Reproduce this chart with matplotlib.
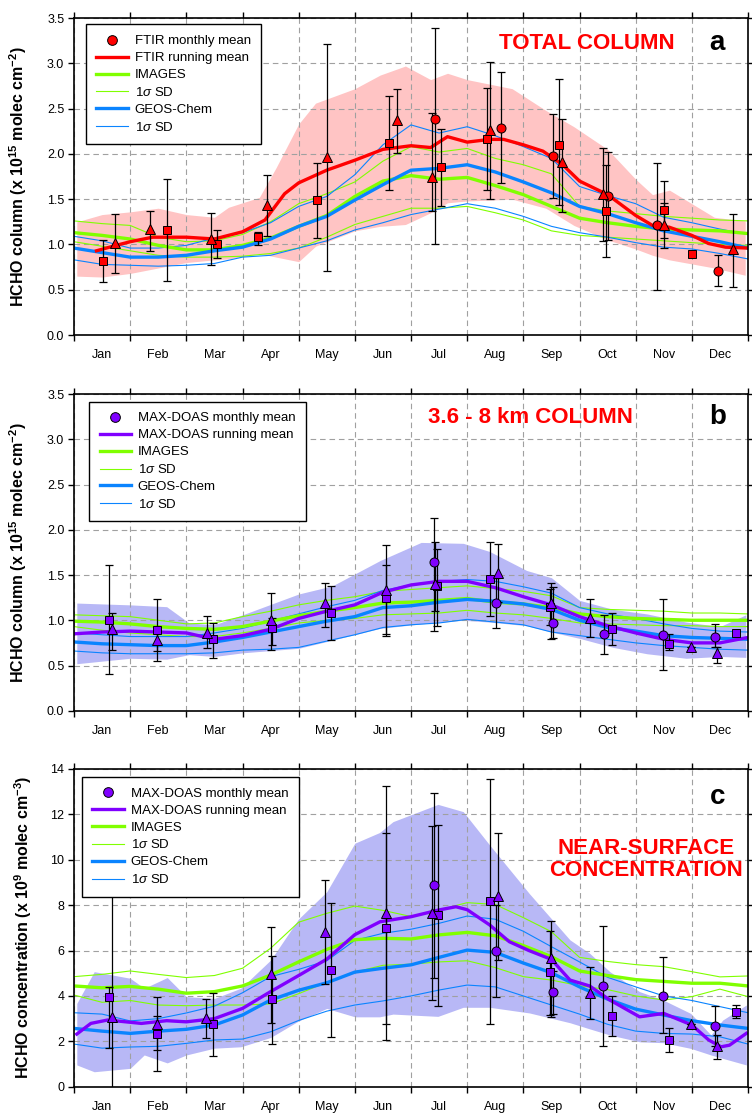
import numpy as np
import matplotlib.pyplot as plt
from matplotlib.lines import Line2D

plt.rcParams['font.family'] = 'Liberation Sans'
plt.rcParams['mathtext.fontset'] = 'custom'
plt.rcParams['mathtext.rm'] = 'Liberation Sans'
plt.rcParams['mathtext.it'] = 'Liberation Sans:italic'
plt.rcParams['mathtext.bf'] = 'Liberation Sans:bold'

months = ['Jan', 'Feb', 'Mar', 'Apr', 'May', 'Jun', 'Jul', 'Aug', 'Sep', 'Oct', 'Nov', 'Dec']

# model curves are read on a half-month grid (month index, 0 = 1 Jan)
mg = [0, 0.5, 1, 1.5, 2, 2.5, 3, 3.5, 4, 4.5, 5, 5.5, 6, 6.5, 7, 7.5, 8, 8.5, 9, 9.5, 10, 10.5, 11, 11.5, 12]

# ---------------- panel a : total column ----------------
a_images = [1.13, 1.10, 1.06, 0.99, 0.94, 0.94, 0.99, 1.07, 1.20, 1.32, 1.53, 1.70, 1.76, 1.72, 1.74, 1.65, 1.55, 1.42, 1.29, 1.24, 1.20, 1.17, 1.16, 1.15, 1.12]
a_images_hi = [1.26, 1.23, 1.21, 1.08, 1.03, 1.04, 1.11, 1.25, 1.45, 1.56, 1.69, 1.92, 2.08, 2.02, 2.06, 1.95, 1.88, 1.78, 1.42, 1.37, 1.34, 1.31, 1.29, 1.27, 1.26]
a_images_lo = [1.03, 0.98, 0.93, 0.88, 0.86, 0.86, 0.87, 0.90, 0.96, 1.08, 1.22, 1.31, 1.40, 1.40, 1.42, 1.35, 1.27, 1.15, 1.10, 1.08, 1.06, 1.04, 1.02, 1.00, 0.99]
a_geos = [0.96, 0.91, 0.86, 0.86, 0.88, 0.93, 0.97, 1.06, 1.20, 1.31, 1.49, 1.66, 1.82, 1.84, 1.88, 1.80, 1.69, 1.57, 1.42, 1.34, 1.24, 1.15, 1.09, 1.03, 0.96]
a_geos_hi = [1.09, 1.04, 0.96, 0.96, 0.99, 1.07, 1.13, 1.24, 1.42, 1.53, 1.77, 2.10, 2.32, 2.23, 2.30, 2.20, 2.08, 1.95, 1.64, 1.54, 1.45, 1.30, 1.24, 1.17, 1.11]
a_geos_lo = [0.83, 0.78, 0.77, 0.76, 0.77, 0.79, 0.86, 0.88, 0.96, 1.04, 1.16, 1.24, 1.33, 1.39, 1.45, 1.40, 1.31, 1.20, 1.13, 1.08, 1.02, 0.97, 0.95, 0.90, 0.84]

a_mean_x = [0.4, 0.75, 1.0, 1.4, 2.0, 2.5, 3.0, 3.4, 3.75, 4.0, 4.5, 5.0, 5.5, 6.0, 6.35, 6.65, 7.0, 7.4, 7.65, 8.0, 8.35, 8.7, 9.0, 9.5, 10.0, 10.3, 10.6, 11.0, 11.3, 11.6, 12.0]
a_mean = [0.93, 0.99, 1.03, 1.08, 1.08, 1.06, 1.14, 1.27, 1.56, 1.68, 1.82, 1.93, 2.05, 2.09, 2.07, 2.19, 2.13, 2.16, 2.16, 2.10, 2.03, 1.88, 1.70, 1.55, 1.32, 1.21, 1.19, 1.10, 1.01, 0.97, 0.96]

a_band_x = [0.05, 0.5, 1.0, 1.5, 2.0, 2.5, 2.75, 3.3, 3.6, 4.0, 4.3, 5.0, 5.45, 5.9, 6.35, 6.65, 7.0, 7.8, 8.4, 8.9, 9.5, 10.0, 10.3, 10.6, 11.4, 11.95]
a_band_hi = [1.25, 1.33, 1.36, 1.40, 1.33, 1.30, 1.41, 1.52, 1.85, 2.33, 2.56, 2.72, 2.87, 2.97, 2.82, 2.89, 2.82, 2.72, 2.48, 2.30, 2.05, 1.72, 1.55, 1.60, 1.30, 1.26]
a_band_lo = [0.65, 0.64, 0.68, 0.74, 0.80, 0.83, 0.84, 0.90, 0.86, 0.81, 0.98, 1.15, 1.20, 1.22, 1.35, 1.46, 1.48, 1.50, 1.40, 1.21, 1.05, 0.95, 0.88, 0.83, 0.74, 0.66]

# monthly means: month position, value, error low, error high
a_circ_x = [6.43, 7.61, 8.52, 9.50, 10.38, 11.47]
a_circ_y = [2.38, 2.29, 1.98, 1.53, 1.21, 0.71]
a_circ_lo = [1.01, 1.68, 1.51, 1.05, 0.50, 0.54]
a_circ_hi = [3.39, 2.90, 2.44, 2.02, 1.90, 0.88]
a_sq_x = [0.52, 1.65, 2.54, 3.27, 4.33, 5.61, 6.54, 7.36, 8.64, 9.47, 10.51, 11.0]
a_sq_y = [0.82, 1.16, 1.00, 1.08, 1.49, 2.12, 1.86, 2.16, 2.10, 1.37, 1.38, 0.90]
a_sq_lo = [0.59, 0.60, 0.85, 0.99, 1.07, 1.60, 1.42, 1.60, 1.44, 0.86, 1.07, 0.90]
a_sq_hi = [1.05, 1.72, 1.16, 1.14, 1.90, 2.64, 2.27, 2.73, 2.83, 1.88, 1.70, 0.90]
a_tri_x = [0.73, 1.36, 2.44, 3.43, 4.51, 5.75, 6.38, 7.41, 8.68, 9.42, 10.51, 11.73]
a_tri_y = [1.02, 1.17, 1.06, 1.44, 1.97, 2.37, 1.74, 2.26, 1.91, 1.56, 1.21, 0.95]
a_tri_lo = [0.68, 0.93, 0.77, 1.09, 0.71, 2.01, 1.37, 1.50, 1.36, 1.04, 0.96, 0.53]
a_tri_hi = [1.34, 1.37, 1.35, 1.77, 3.21, 2.72, 2.45, 3.02, 2.39, 2.06, 1.46, 1.34]

# ---------------- panel b : 3.6 - 8 km column ----------------
b_images = [0.99, 0.98, 0.96, 0.93, 0.91, 0.90, 0.93, 0.99, 1.05, 1.10, 1.14, 1.19, 1.20, 1.22, 1.24, 1.20, 1.18, 1.14, 1.07, 1.04, 1.02, 1.01, 1.00, 1.00, 1.00]
b_images_hi = [1.06, 1.05, 1.04, 1.00, 0.96, 0.97, 1.04, 1.10, 1.17, 1.22, 1.26, 1.32, 1.34, 1.36, 1.38, 1.35, 1.32, 1.27, 1.14, 1.12, 1.11, 1.10, 1.08, 1.08, 1.07]
b_images_lo = [0.93, 0.89, 0.86, 0.84, 0.82, 0.82, 0.86, 0.91, 0.97, 1.00, 1.02, 1.06, 1.07, 1.08, 1.11, 1.08, 1.06, 1.02, 0.97, 0.96, 0.95, 0.94, 0.94, 0.93, 0.93]
b_geos = [0.76, 0.74, 0.73, 0.72, 0.72, 0.76, 0.81, 0.87, 0.93, 0.99, 1.04, 1.14, 1.16, 1.20, 1.23, 1.21, 1.18, 1.12, 1.00, 0.92, 0.88, 0.83, 0.81, 0.80, 0.79]
b_geos_hi = [0.86, 0.84, 0.82, 0.82, 0.82, 0.86, 0.91, 0.99, 1.07, 1.15, 1.22, 1.33, 1.39, 1.43, 1.45, 1.43, 1.37, 1.30, 1.14, 1.07, 1.02, 0.96, 0.91, 0.88, 0.87]
b_geos_lo = [0.66, 0.64, 0.63, 0.63, 0.63, 0.64, 0.67, 0.68, 0.70, 0.77, 0.84, 0.92, 0.95, 0.97, 1.01, 0.98, 0.95, 0.87, 0.83, 0.79, 0.75, 0.72, 0.70, 0.68, 0.67]

b_mean_x = mg
b_mean = [0.85, 0.87, 0.88, 0.87, 0.86, 0.79, 0.83, 0.90, 1.02, 1.10, 1.17, 1.31, 1.39, 1.43, 1.43, 1.36, 1.26, 1.17, 1.04, 0.94, 0.86, 0.79, 0.75, 0.75, 0.81]

b_band_x = [0.05, 1.0, 1.65, 2.05, 2.5, 3.0, 4.0, 4.6, 5.45, 6.18, 6.93, 7.4, 8.06, 8.5, 9.0, 9.6, 10.2, 10.9, 11.5, 11.96]
b_band_hi = [1.19, 1.17, 1.15, 0.97, 0.95, 1.06, 1.29, 1.38, 1.66, 1.86, 1.85, 1.76, 1.55, 1.47, 1.22, 1.12, 1.07, 0.98, 0.93, 1.06]
b_band_lo = [0.52, 0.58, 0.57, 0.62, 0.60, 0.64, 0.69, 0.78, 0.91, 0.96, 1.00, 0.98, 0.94, 0.87, 0.80, 0.70, 0.63, 0.58, 0.60, 0.59]

b_circ_x = [6.41, 7.52, 8.52, 9.43, 10.49, 11.41]
b_circ_y = [1.64, 1.19, 0.97, 0.85, 0.84, 0.82]
b_circ_lo = [0.88, 0.91, 0.80, 0.63, 0.45, 0.71]
b_circ_hi = [2.13, 1.47, 1.37, 1.06, 1.23, 0.96]
b_sq_x = [0.62, 1.47, 2.48, 3.52, 4.57, 5.56, 6.46, 7.40, 8.48, 9.58, 10.60, 11.79]
b_sq_y = [1.00, 0.89, 0.79, 0.91, 1.08, 1.25, 1.38, 1.46, 1.15, 0.90, 0.74, 0.86]
b_sq_lo = [0.41, 0.55, 0.58, 0.73, 0.78, 0.85, 0.94, 1.05, 0.95, 0.73, 0.67, 0.86]
b_sq_hi = [1.61, 1.24, 0.97, 1.03, 1.38, 1.61, 1.79, 1.87, 1.35, 1.08, 0.85, 0.86]
b_tri_x = [0.67, 1.48, 2.36, 3.50, 4.47, 5.56, 6.42, 7.55, 8.50, 9.18, 10.98, 11.45]
b_tri_y = [0.90, 0.78, 0.86, 1.00, 1.19, 1.33, 1.40, 1.52, 1.19, 1.03, 0.71, 0.64]
b_tri_lo = [0.67, 0.66, 0.69, 0.67, 0.93, 0.83, 1.10, 1.20, 0.79, 0.81, 0.71, 0.53]
b_tri_hi = [1.08, 0.93, 1.05, 1.30, 1.41, 1.83, 1.87, 1.84, 1.41, 1.23, 0.71, 0.71]

# ---------------- panel c : near-surface concentration ----------------
c_images = [4.44, 4.36, 4.42, 4.30, 4.12, 4.19, 4.44, 4.92, 5.50, 6.05, 6.48, 6.54, 6.51, 6.69, 6.80, 6.65, 6.22, 5.73, 5.10, 4.90, 4.72, 4.64, 4.56, 4.56, 4.44]
c_images_hi = [4.85, 4.95, 5.10, 4.95, 4.81, 4.90, 5.22, 6.10, 7.25, 7.64, 7.96, 7.77, 7.50, 7.79, 8.11, 8.03, 7.45, 6.83, 5.70, 5.52, 5.38, 5.29, 5.07, 4.84, 4.88]
c_images_lo = [4.04, 3.72, 3.80, 3.60, 3.57, 3.60, 3.60, 3.65, 4.10, 4.60, 5.05, 5.35, 5.40, 5.50, 5.55, 5.25, 4.85, 4.70, 4.45, 4.28, 4.00, 3.82, 3.97, 4.30, 3.97]
c_geos = [2.57, 2.45, 2.35, 2.45, 2.53, 2.72, 3.16, 3.82, 4.25, 4.58, 5.05, 5.22, 5.37, 5.70, 6.02, 5.92, 5.45, 5.02, 4.40, 3.86, 3.42, 3.16, 2.91, 2.72, 2.57]
c_geos_hi = [3.26, 3.20, 2.90, 3.00, 3.25, 3.55, 4.14, 4.85, 5.17, 5.55, 6.45, 6.76, 6.94, 7.20, 7.52, 7.38, 6.85, 6.17, 5.50, 4.82, 4.40, 4.00, 3.80, 3.53, 3.26]
c_geos_lo = [1.88, 1.70, 1.75, 1.78, 1.91, 2.06, 2.10, 2.42, 2.92, 3.33, 3.60, 3.78, 4.00, 4.26, 4.48, 4.40, 4.00, 3.60, 3.20, 2.75, 2.45, 2.35, 2.32, 2.20, 1.88]

c_mean_x = [0.05, 0.3, 0.6, 1.2, 1.65, 2.0, 2.5, 3.0, 3.5, 4.0, 4.5, 5.0, 5.45, 6.0, 6.5, 6.8, 7.0, 7.4, 7.75, 8.1, 8.5, 8.83, 9.18, 9.54, 10.07, 10.5, 11.0, 11.3, 11.52, 11.67, 11.97]
c_mean = [2.32, 2.79, 2.94, 2.79, 2.91, 2.86, 3.00, 3.45, 4.19, 4.90, 5.62, 6.70, 7.27, 7.49, 7.79, 7.93, 7.80, 7.13, 6.39, 6.00, 5.61, 4.70, 4.44, 3.82, 3.08, 3.23, 2.72, 2.06, 1.76, 1.83, 2.35]

c_band_x = [0.05, 0.36, 1.0, 1.25, 1.66, 2.0, 2.5, 2.97, 3.5, 4.0, 4.5, 5.0, 5.44, 5.68, 6.48, 6.93, 7.4, 8.11, 8.83, 9.18, 9.54, 10.07, 10.49, 10.98, 11.34, 11.55, 11.97]
c_band_hi = [3.67, 5.07, 4.78, 4.34, 4.81, 3.97, 3.89, 4.34, 5.58, 7.40, 8.59, 10.73, 11.20, 11.68, 12.44, 12.12, 10.65, 8.50, 6.47, 5.88, 5.07, 4.19, 3.82, 3.23, 2.28, 2.94, 3.60]
c_band_lo = [0.96, 0.66, 0.81, 1.40, 1.05, 1.40, 1.70, 1.76, 2.17, 2.90, 3.45, 3.08, 3.08, 3.20, 3.10, 3.50, 3.50, 3.25, 2.82, 2.55, 2.28, 1.98, 1.94, 1.69, 1.40, 1.25, 0.96]

c_circ_x = [6.41, 7.52, 8.52, 9.42, 10.49, 11.41]
c_circ_y = [8.88, 5.98, 4.16, 4.44, 4.01, 2.69]
c_circ_lo = [4.80, 3.94, 3.20, 1.81, 2.35, 1.80]
c_circ_hi = [12.96, 8.00, 5.10, 7.08, 5.70, 3.56]
c_sq_x = [0.62, 1.48, 2.48, 3.52, 4.58, 5.56, 6.48, 7.40, 8.48, 9.57, 10.60, 11.79]
c_sq_y = [3.97, 2.32, 2.76, 3.85, 5.14, 7.01, 7.55, 8.20, 5.04, 3.13, 2.06, 3.28]
c_sq_lo = [1.69, 1.60, 1.35, 1.88, 2.18, 2.76, 3.56, 2.76, 3.16, 2.23, 1.52, 3.01]
c_sq_hi = [4.41, 3.10, 4.12, 5.76, 8.11, 11.19, 11.53, 13.56, 6.87, 4.00, 2.60, 3.60]
c_tri_x = [0.67, 1.48, 2.35, 3.50, 4.46, 5.56, 6.38, 7.55, 8.50, 9.18, 10.98, 11.45]
c_tri_y = [3.08, 2.76, 3.01, 4.97, 6.83, 7.67, 7.64, 8.40, 5.66, 4.14, 2.76, 1.81]
c_tri_lo = [-0.5, 0.71, 2.13, 2.79, 4.51, 2.06, 3.82, 5.60, 3.09, 2.97, 2.76, 1.21]
c_tri_hi = [9.00, 3.94, 3.85, 7.05, 9.11, 13.27, 11.50, 11.17, 7.32, 5.29, 2.76, 2.28]

red = '#FF0000'
purple = '#8000FF'
green = '#80FF00'
blue = '#0A84FF'
pink = '#FFC4C4'
lavender = '#B8B8F6'

fig = plt.figure(figsize=(7.52, 11.13), dpi=100)


def draw_panel(ax, band, mean, model, markers, color, fill, ymax, ystep, ylabel, name):
    ax.fill_between(band[0], band[1], band[2], color=fill, lw=0, zorder=1)
    ax.plot(mg, model[1], color=green, lw=0.8, zorder=2)
    ax.plot(mg, model[2], color=green, lw=0.8, zorder=2)
    ax.plot(mg, model[4], color=blue, lw=0.8, zorder=2)
    ax.plot(mg, model[5], color=blue, lw=0.8, zorder=2)
    ax.plot(mg, model[0], color=green, lw=2.4, zorder=2.2)
    ax.plot(mg, model[3], color=blue, lw=2.4, zorder=2.3)
    ax.plot(mean[0], mean[1], color=color, lw=2.4, zorder=2.5)
    for shape, (mx, my, mlo, mhi) in markers.items():
        mx = np.array(mx); my = np.array(my)
        err = [my - np.array(mlo), np.array(mhi) - my]
        ax.errorbar(mx, my, yerr=err, fmt='none', ecolor='black', elinewidth=0.9,
                    capsize=3, capthick=0.9, zorder=3)
        ms = 5.5 if shape == 's' else 6.5
        ax.plot(mx, my, ls='none', marker=shape, ms=ms, mfc=color, mec='black', mew=0.7, zorder=4)

    ax.set_xlim(0, 12)
    ax.set_ylim(0, ymax)
    ax.set_xticks(np.arange(0, 13))
    ax.set_xticks(np.arange(0.5, 12), minor=True)
    ax.set_xticklabels([])
    ax.set_xticklabels(months, minor=True)
    ax.set_yticks(np.arange(0, ymax + 0.01, ystep))
    if ystep < 1:
        ax.set_yticklabels(['%.1f' % v for v in np.arange(0, ymax + 0.01, ystep)])
    ax.tick_params(which='major', direction='out', length=4, width=1, top=True, right=True,
                   labelsize=9, pad=3)
    ax.tick_params(which='minor', axis='x', length=0, labelsize=9, pad=10, top=False)
    ax.grid(True, which='major', color='#A0A0A0', ls=(0, (5, 3.5)), lw=0.8)
    ax.set_axisbelow('line')
    for s in ax.spines.values():
        s.set_linewidth(1.2)
    ax.set_ylabel(ylabel, fontsize=11.5, fontweight='bold')

    handles = [
        Line2D([], [], ls='none', marker='o', ms=7, mfc=color, mec='black', mew=0.7),
        Line2D([], [], color=color, lw=2.4),
        Line2D([], [], color=green, lw=2.4),
        Line2D([], [], color=green, lw=0.8),
        Line2D([], [], color=blue, lw=2.4),
        Line2D([], [], color=blue, lw=0.8),
    ]
    labels = [name + ' monthly mean', name + ' running mean', 'IMAGES', r'1$\sigma$ SD',
              'GEOS-Chem', r'1$\sigma$ SD']
    return handles, labels


def add_legend(ax, h, l, anchor):
    leg = ax.legend(h, l, loc='upper left', bbox_to_anchor=anchor, borderaxespad=0,
                    fontsize=9.5, handlelength=2.4, handletextpad=0.5, labelspacing=0.36,
                    borderpad=0.8, fancybox=False, edgecolor='black', framealpha=1)
    leg.get_frame().set_linewidth(1.0)
    leg.set_zorder(10)


# panel a
ax1 = fig.add_axes([0.0984, 0.699, 0.8963, 0.2848])
h, l = draw_panel(ax1, (a_band_x, a_band_lo, a_band_hi), (a_mean_x, a_mean),
                  (a_images, a_images_hi, a_images_lo, a_geos, a_geos_hi, a_geos_lo),
                  {'o': (a_circ_x, a_circ_y, a_circ_lo, a_circ_hi),
                   's': (a_sq_x, a_sq_y, a_sq_lo, a_sq_hi),
                   '^': (a_tri_x, a_tri_y, a_tri_lo, a_tri_hi)},
                  red, pink, 3.5, 0.5, r'HCHO column (x 10$^{\mathbf{15}}$ molec cm$^{\mathbf{-2}}$)', 'FTIR')
add_legend(ax1, h, l, (0.0174, 0.98))
ax1.yaxis.set_label_coords(-0.0675, 0.5)
ax1.text(0.761, 0.921, 'TOTAL COLUMN', transform=ax1.transAxes, color=red, fontsize=16,
         fontweight='bold', ha='center', va='center')
ax1.text(0.954, 0.921, 'a', transform=ax1.transAxes, fontsize=20, fontweight='bold',
         ha='center', va='center')

# panel b
ax2 = fig.add_axes([0.0984, 0.3614, 0.8963, 0.2846])
h, l = draw_panel(ax2, (b_band_x, b_band_lo, b_band_hi), (b_mean_x, b_mean),
                  (b_images, b_images_hi, b_images_lo, b_geos, b_geos_hi, b_geos_lo),
                  {'o': (b_circ_x, b_circ_y, b_circ_lo, b_circ_hi),
                   's': (b_sq_x, b_sq_y, b_sq_lo, b_sq_hi),
                   '^': (b_tri_x, b_tri_y, b_tri_lo, b_tri_hi)},
                  purple, lavender, 3.5, 0.5, r'HCHO column (x 10$^{\mathbf{15}}$ molec cm$^{\mathbf{-2}}$)', 'MAX-DOAS')
add_legend(ax2, h, l, (0.0223, 0.976))
ax2.yaxis.set_label_coords(-0.0675, 0.5)
ax2.text(0.677, 0.927, '3.6 - 8 km COLUMN', transform=ax2.transAxes, color=red, fontsize=16,
         fontweight='bold', ha='center', va='center')
ax2.text(0.955, 0.927, 'b', transform=ax2.transAxes, fontsize=20, fontweight='bold',
         ha='center', va='center')

# panel c
ax3 = fig.add_axes([0.0984, 0.0236, 0.8963, 0.2855])
h, l = draw_panel(ax3, (c_band_x, c_band_lo, c_band_hi), (c_mean_x, c_mean),
                  (c_images, c_images_hi, c_images_lo, c_geos, c_geos_hi, c_geos_lo),
                  {'o': (c_circ_x, c_circ_y, c_circ_lo, c_circ_hi),
                   's': (c_sq_x, c_sq_y, c_sq_lo, c_sq_hi),
                   '^': (c_tri_x, c_tri_y, c_tri_lo, c_tri_hi)},
                  purple, lavender, 14, 2, r'HCHO concentration (x 10$^{\mathbf{9}}$ molec cm$^{\mathbf{-3}}$)', 'MAX-DOAS')
add_legend(ax3, h, l, (0.0114, 0.975))
ax3.yaxis.set_label_coords(-0.06, 0.5)
ax3.text(0.849, 0.715, 'NEAR-SURFACE\nCONCENTRATION', transform=ax3.transAxes, color=red,
         fontsize=16, fontweight='bold', ha='center', va='center', linespacing=1.05)
ax3.text(0.955, 0.912, 'c', transform=ax3.transAxes, fontsize=20, fontweight='bold',
         ha='center', va='center')

fig.savefig('out.png', dpi=100)
